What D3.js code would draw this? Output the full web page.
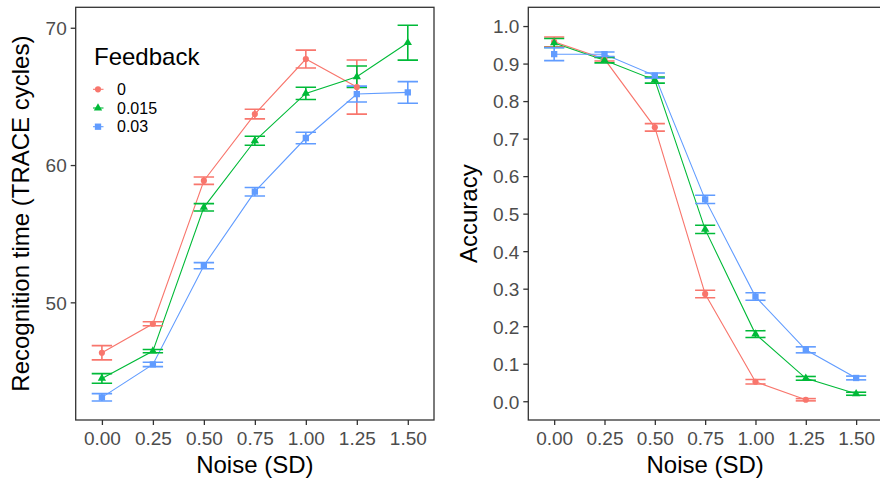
<!DOCTYPE html>
<html><head><meta charset="utf-8">
<script src="https://cdn.jsdelivr.net/npm/d3@7"></script>
<style>
html,body{margin:0;padding:0;background:#fff;}
svg{display:block;font-family:"Liberation Sans",Arial,Helvetica,sans-serif;}
</style></head>
<body><svg id="chart" width="880" height="484"></svg>
<script>
// ---- data ----
const noise = [0, 0.25, 0.5, 0.75, 1.0, 1.25, 1.5];
const feedback = ["0", "0.015", "0.03"];
const colors = ["#F8766D", "#00BA38", "#619CFF"];
const shapes = [d3.symbolCircle, d3.symbolTriangle, d3.symbolSquare];

const rtMean0   = [46.33, 48.44, 58.86, 63.71, 67.72, 65.68, null];
const rtSe0     = [0.52, 0.15, 0.27, 0.35, 0.65, 1.97, null];
const rtMean015 = [44.46, 46.45, 56.92, 61.77, 65.22, 66.43, 68.91];
const rtSe015   = [0.35, 0.12, 0.27, 0.33, 0.45, 0.78, 1.27];
const rtMean03  = [43.08, 45.48, 52.67, 58.06, 61.97, 65.17, 65.29];
const rtSe03    = [0.27, 0.16, 0.22, 0.31, 0.42, 0.58, 0.79];

const accMean0   = [0.958, 0.912, 0.730, 0.286, 0.052, 0.004, null];
const accSe0     = [0.013, 0.005, 0.010, 0.010, 0.006, 0.003, null];
const accMean015 = [0.955, 0.909, 0.856, 0.458, 0.179, 0.061, 0.020];
const accSe015   = [0.012, 0.007, 0.008, 0.011, 0.009, 0.005, 0.004];
const accMean03  = [0.925, 0.925, 0.868, 0.538, 0.279, 0.137, 0.062];
const accSe03    = [0.017, 0.006, 0.007, 0.011, 0.010, 0.008, 0.005];

const xTicks = [0, 0.25, 0.5, 0.75, 1.0, 1.25, 1.5];
const rtTicks = [50, 60, 70];
const accTicks = [0, 0.1, 0.2, 0.3, 0.4, 0.5, 0.6, 0.7, 0.8, 0.9, 1.0];

const rtSeries = [[rtMean0, rtSe0], [rtMean015, rtSe015], [rtMean03, rtSe03]];
const accSeries = [[accMean0, accSe0], [accMean015, accSe015], [accMean03, accSe03]];

// ---- layout ----
const svg = d3.select("#chart");
svg.append("rect").attr("width", 880).attr("height", 484).attr("fill", "#fff");

const pTop = 7.3, pBottom = 420;
const FONT_TICK = 19, FONT_TITLE = 24, FONT_LEG = 16;

function panel(opts) {
  const { left, right, yDomain, yTicks, yFmt, series, yTitle, yTitleX } = opts;
  const x = d3.scaleLinear().domain([-0.1285, 1.6285]).range([left, right]);
  const y = d3.scaleLinear().domain(yDomain).range([pBottom, pTop]);
  const g = svg.append("g");

  const cid = "clip" + Math.round(left);
  svg.append("clipPath").attr("id", cid).append("rect")
    .attr("x", left).attr("y", pTop).attr("width", right - left).attr("height", pBottom - pTop);

  const ax = g.append("g").attr("transform", `translate(0,${pBottom})`)
    .call(d3.axisBottom(x).tickValues(xTicks).tickFormat(d3.format(".2f")).tickSize(5).tickPadding(4));
  const ay = g.append("g").attr("transform", `translate(${left},0)`)
    .call(d3.axisLeft(y).tickValues(yTicks).tickFormat(yFmt).tickSize(5).tickPadding(4));
  [ax, ay].forEach(a => {
    a.select(".domain").remove();
    a.selectAll(".tick line").attr("stroke", "#333").attr("stroke-width", 1.3);
    a.selectAll(".tick text").attr("fill", "#4d4d4d").attr("font-size", FONT_TICK)
      .attr("font-family", "Liberation Sans, Arial, sans-serif");
  });
  ax.selectAll(".tick text").attr("dy", null).attr("y", 25);
  ay.selectAll(".tick text").attr("dy", "0.36em");

  const pg = g.append("g").attr("clip-path", `url(#${cid})`);

  series.forEach((s, i) => {
    const [mean, se] = s;
    const pts = noise.map((n, j) => ({ n, m: mean[j], e: se[j] })).filter(d => d.m != null);
    const line = d3.line().x(d => x(d.n)).y(d => y(d.m));
    pg.append("path").attr("d", line(pts)).attr("fill", "none")
      .attr("stroke", colors[i]).attr("stroke-width", 1.1);
  });
  series.forEach((s, i) => {
    const [mean, se] = s;
    const pts = noise.map((n, j) => ({ n, m: mean[j], e: se[j] })).filter(d => d.m != null);
    const eg = pg.append("g").attr("stroke", colors[i]).attr("stroke-width", 1.6).attr("fill", "none");
    pts.forEach(d => {
      const xl = x(d.n - 0.05), xr = x(d.n + 0.05), xc = x(d.n);
      const yt = y(d.m + d.e), yb = y(d.m - d.e);
      eg.append("line").attr("x1", xl).attr("x2", xr).attr("y1", yt).attr("y2", yt);
      eg.append("line").attr("x1", xl).attr("x2", xr).attr("y1", yb).attr("y2", yb);
      eg.append("line").attr("x1", xc).attr("x2", xc).attr("y1", yt).attr("y2", yb);
    });
  });
  series.forEach((s, i) => {
    const [mean] = s;
    const pts = noise.map((n, j) => ({ n, m: mean[j] })).filter(d => d.m != null);
    pg.selectAll(null).data(pts).enter().append("path")
      .attr("d", d3.symbol().type(shapes[i]).size(i === 2 ? 40 : 30))
      .attr("transform", d => `translate(${x(d.n)},${y(d.m)})`)
      .attr("fill", colors[i]);
  });

  g.append("rect").attr("x", left).attr("y", pTop).attr("width", right - left).attr("height", pBottom - pTop)
    .attr("fill", "none").attr("stroke", "#333").attr("stroke-width", 1.3);

  g.append("text").attr("x", (left + right) / 2).attr("y", 473).attr("text-anchor", "middle")
    .attr("font-size", FONT_TITLE).attr("fill", "#000").text("Noise (SD)");
  g.append("text").attr("transform", `translate(${yTitleX},${(pTop + pBottom) / 2}) rotate(-90)`)
    .attr("text-anchor", "middle").attr("font-size", FONT_TITLE).attr("fill", "#000").text(yTitle);
}

panel({ left: 75.7, right: 434, yDomain: [41.43, 71.49], yTicks: rtTicks, yFmt: d3.format("d"),
  series: rtSeries, yTitle: "Recognition time (TRACE cycles)", yTitleX: 29 });
panel({ left: 528.3, right: 882, yDomain: [-0.05, 1.05], yTicks: accTicks, yFmt: d3.format(".1f"),
  series: accSeries, yTitle: "Accuracy", yTitleX: 477 });

// legend
const lg = svg.append("g");
lg.append("text").attr("x", 94).attr("y", 65).attr("font-size", FONT_TITLE).attr("fill", "#000").text("Feedback");
feedback.forEach((f, i) => {
  const cy = 89.3 + i * 18.7;
  lg.append("line").attr("x1", 93).attr("x2", 103.5).attr("y1", cy).attr("y2", cy)
    .attr("stroke", colors[i]).attr("stroke-width", 1.1);
  lg.append("path").attr("d", d3.symbol().type(shapes[i]).size(i === 2 ? 40 : 30)())
    .attr("transform", `translate(98,${cy})`).attr("fill", colors[i]);
  lg.append("text").attr("x", 117).attr("y", cy).attr("dy", "0.36em")
    .attr("font-size", FONT_LEG).attr("fill", "#000").text(f);
});
</script></body></html>
